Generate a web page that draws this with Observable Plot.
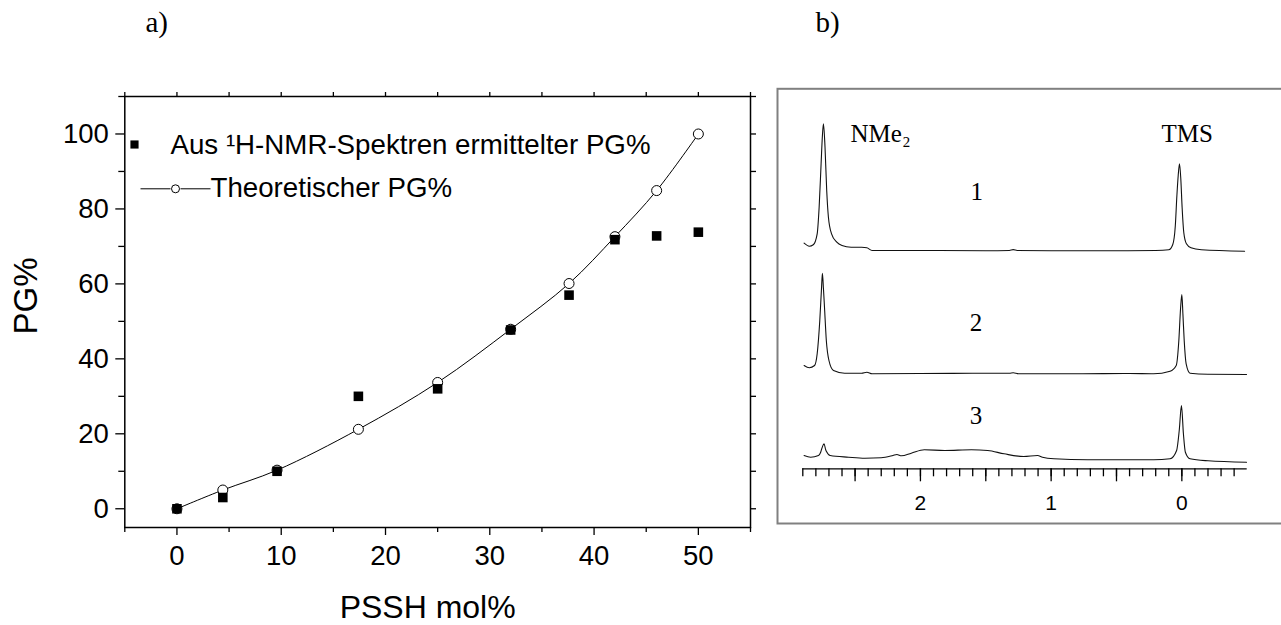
<!DOCTYPE html>
<html>
<head>
<meta charset="utf-8">
<script src="https://cdn.jsdelivr.net/npm/d3@7"></script>
<script src="https://cdn.jsdelivr.net/npm/@observablehq/plot@0.6"></script>
<style>
html, body { margin: 0; padding: 0; background: #fff; }
#wrap { position: relative; width: 1281px; height: 625px; overflow: hidden; background: #fff; }
#a { position: absolute; left: 0; top: 0; width: 770px; height: 625px; }
#b { position: absolute; left: 770px; top: 0; width: 511px; height: 625px; }
svg { overflow: visible; }
</style>
</head>
<body>
<div id="wrap"><div id="a"></div><div id="b"></div></div>
<script>
// ---------- Panel a) data ----------
const psshMol = [0, 4.4, 9.6, 17.4, 25, 32, 37.6, 42, 46, 50];
const pgMeasured = [0, 3, 10, 30, 32, 47.7, 57, 71.8, 72.8, 73.8];
const pgTheoretical = [0, 5, 10.3, 21.2, 33.7, 47.9, 60.1, 72.6, 84.9, 100];
const xMajorTicks = [0, 10, 20, 30, 40, 50];
const xMinorTicks = [-5, 5, 15, 25, 35, 45, 55];
const yMajorTicks = [0, 20, 40, 60, 80, 100];
const yMinorTicks = [10, 30, 50, 70, 90, 110];
const seriesNames = ["Aus \u00B9H-NMR-Spektren ermittelter PG%", "Theoretischer PG%"];

// ---------- Panel b) data (1H-NMR spectra, ppm vs. intensity above own baseline) ----------
const spec1Ppm = [2.89, 2.85, 2.82, 2.79, 2.775, 2.76, 2.75, 2.742, 2.73, 2.717, 2.704, 2.68, 2.64, 2.60, 2.53, 2.45, 2.41, 2.37, 2.0, 1.5, 1.32, 1.29, 1.26, 1.0, 0.5, 0.2, 0.10, 0.07, 0.05, 0.038, 0.028, 0.018, 0.008, -0.002, -0.015, -0.035, -0.07, -0.15, -0.48];
const spec1Int = [7.6, 4.6, 6, 17, 43.6, 87, 115, 127, 103.6, 60, 33.6, 17, 8.6, 5.3, 3.6, 3.5, 3.0, 0.3, 0.3, 0, 0.3, 1.2, 0.3, 0, 0, 0.3, 1, 6, 25, 55, 75, 87, 72, 43.6, 18, 7, 3, 1, -0.4];
const spec2Ppm = [2.89, 2.85, 2.81, 2.79, 2.77, 2.757, 2.75, 2.742, 2.734, 2.72, 2.70, 2.665, 2.58, 2.45, 2.41, 2.37, 2.0, 1.6, 1.32, 1.29, 1.25, 0.8, 0.4, 0.216, 0.09, 0.043, 0.023, 0.01, 0.0, -0.008, -0.018, -0.033, -0.063, -0.2, -0.495];
const spec2Int = [8.3, 6, 8.3, 20, 53.3, 85, 100.6, 85, 66.6, 33.3, 13.3, 3.3, 0.6, 0.6, 1.6, 0, 0.3, 0.5, 0.5, 1.0, 0, 0, 0.3, 0, 2.6, 8.3, 33.3, 65, 79.3, 60, 33.3, 10, 0.6, -0.5, -0.7];
const spec3Ppm = [2.89, 2.84, 2.78, 2.765, 2.755, 2.737, 2.725, 2.72, 2.69, 2.55, 2.425, 2.30, 2.21, 2.18, 2.145, 2.07, 1.97, 1.815, 1.61, 1.485, 1.36, 1.21, 1.104, 1.066, 0.978, 0.72, 0.216, 0.09, 0.04, 0.02, 0.003, -0.012, -0.027, -0.063, -0.2, -0.495];
const spec3Int = [7.3, 5.6, 7.3, 10, 14, 19, 13, 11.6, 7.3, 5.6, 4.6, 5, 7.3, 8.3, 7, 9.6, 13, 12.3, 13, 12.3, 9, 6.3, 7.3, 5.6, 4, 3, 3, 4, 12.3, 32.3, 57.3, 29, 10.6, 4, 2, 0.6];
const spectrumIds = ["1", "2", "3"];
const nmrMinorTicks = d3.range(-4, 30).map(i => i / 10);
const nmrMajorTicks = [2.5, 2, 1.5, 1, 0.5, 0];
const nmrLabeledTicks = [2, 1, 0];
const peakNames = ["NMe\u2082", "TMS"];

// ---------- layout ----------
const sans = "'Liberation Sans', Arial, Helvetica, sans-serif";
const serif = "'Liberation Serif', 'Times New Roman', serif";

const pts = psshMol.map((x, i) => ({x, m: pgMeasured[i], t: pgTheoretical[i]}));

const legendLine = {
  draw(ctx) { ctx.moveTo(-35, 0); ctx.lineTo(-5, 0); ctx.moveTo(5, 0); ctx.lineTo(35, 0); }
};

const one = [0];
const T = (o) => Plot.text(one, {lineAnchor: "middle", ...o});

const left = Plot.plot({
  width: 770, height: 625,
  marginLeft: 124.3, marginRight: 20, marginTop: 96, marginBottom: 98,
  style: {fontFamily: sans, fontSize: "27px", color: "black", background: "white", overflow: "visible"},
  x: {domain: [-5, 55], label: null},
  y: {domain: [-5, 110], label: null},
  marks: [
    Plot.frame({stroke: "black", strokeWidth: 1.5}),
    Plot.axisX(xMajorTicks, {tickSize: 8, tickPadding: 10, fontSize: 27.5, label: null, strokeWidth: 1.3}),
    Plot.axisX(xMinorTicks, {tickSize: 5, tickFormat: () => "", label: null, strokeWidth: 1.3}),
    Plot.axisX([...xMajorTicks, ...xMinorTicks], {anchor: "top", tickSize: 5, tickFormat: () => "", label: null, strokeWidth: 1.3}),
    Plot.axisY(yMajorTicks, {tickSize: 9, tickPadding: 7, fontSize: 27.5, label: null, strokeWidth: 1.3}),
    Plot.axisY(yMinorTicks, {tickSize: 6, tickFormat: () => "", label: null, strokeWidth: 1.3}),
    Plot.axisY([...yMajorTicks, ...yMinorTicks], {anchor: "right", tickSize: 5, tickFormat: () => "", label: null, strokeWidth: 1.3}),
    Plot.line(pts, {x: "x", y: "t", curve: "catmull-rom", stroke: "black", strokeWidth: 1}),
    Plot.dot(pts, {x: "x", y: "t", r: 5, fill: "white", stroke: "black", strokeWidth: 1}),
    Plot.dot(pts, {x: "x", y: "m", symbol: "square", r: 5.4, fill: "black", stroke: "none"}),
    // legend
    Plot.dot(one, {frameAnchor: "top-left", dx: 9.7, dy: 48, symbol: "square", r: 4.6, fill: "black", stroke: "none"}),
    T({frameAnchor: "top-left", dx: 45.7, dy: 48.7, text: () => seriesNames[0], textAnchor: "start", fontSize: 27.7}),
    Plot.dot(one, {frameAnchor: "top-left", dx: 50.7, dy: 92.3, symbol: legendLine, fill: "none", stroke: "black", strokeWidth: 1}),
    Plot.dot(one, {frameAnchor: "top-left", dx: 50.7, dy: 92.3, r: 4, fill: "white", stroke: "black", strokeWidth: 1}),
    T({frameAnchor: "top-left", dx: 85.7, dy: 92, text: () => seriesNames[1], textAnchor: "start", fontSize: 27.7}),
    // axis titles
    T({frameAnchor: "bottom", dx: -10, dy: 80, text: () => "PSSH mol%", fontSize: 32}),
    T({frameAnchor: "left", dx: -98.3, dy: 22.5, rotate: -90, text: () => "PG%", fontSize: 33}),
    // panel label
    T({frameAnchor: "top-left", dx: 20.7, dy: -73.3, text: () => "a)", textAnchor: "start", fontSize: 29, fontFamily: serif})
  ]
});
document.getElementById("a").append(left);

// spectra
const offsets = [218, 95, 6];
const specData = [];
[[spec1Ppm, spec1Int], [spec2Ppm, spec2Int], [spec3Ppm, spec3Int]].forEach(([P, I], k) => {
  P.forEach((p, i) => specData.push({ppm: p, y: offsets[k] + I[i], s: spectrumIds[k]}));
});

const right = Plot.plot({
  width: 511, height: 625,
  marginLeft: 32.3, marginRight: 34.3, marginTop: 88.3, marginBottom: 156.7,
  style: {fontFamily: sans, fontSize: "21px", color: "black", background: "white", overflow: "visible"},
  x: {domain: [2.9, -0.5], label: null},
  y: {domain: [0, 380], label: null, axis: null},
  marks: [
    Plot.frame({stroke: "#808080", strokeWidth: 2, insetLeft: -25.3, insetRight: -40, insetTop: 0, insetBottom: -54.7}),
    Plot.ruleY([0], {stroke: "black", strokeWidth: 1.3}),
    Plot.axisX(nmrMinorTicks, {tickSize: 8, tickFormat: () => "", label: null, strokeWidth: 1.3}),
    Plot.axisX(nmrMajorTicks, {tickSize: 13, tickPadding: 13, fontSize: 21, label: null, strokeWidth: 1.3,
      tickFormat: d => nmrLabeledTicks.includes(d) ? String(d) : ""}),
    Plot.line(specData, {x: "ppm", y: "y", z: "s", curve: "monotone-x", stroke: "#111", strokeWidth: 1.1}),
    T({frameAnchor: "top-left", dx: 47.7, dy: 45.4, text: () => peakNames[0], textAnchor: "start", fontSize: 25, fontFamily: serif}),
    T({frameAnchor: "top-left", dx: 358.7, dy: 45.4, text: () => peakNames[1], fontSize: 25, fontFamily: serif}),
    T({frameAnchor: "top-left", dx: 167.7, dy: 103, text: () => spectrumIds[0], fontSize: 25, fontFamily: serif}),
    T({frameAnchor: "top-left", dx: 167, dy: 233.7, text: () => spectrumIds[1], fontSize: 25, fontFamily: serif}),
    T({frameAnchor: "top-left", dx: 167, dy: 327, text: () => spectrumIds[2], fontSize: 25, fontFamily: serif}),
    T({frameAnchor: "top-left", dx: 12.7, dy: -65.6, text: () => "b)", textAnchor: "start", fontSize: 29, fontFamily: serif})
  ]
});
document.getElementById("b").append(right);
</script>
</body>
</html>
